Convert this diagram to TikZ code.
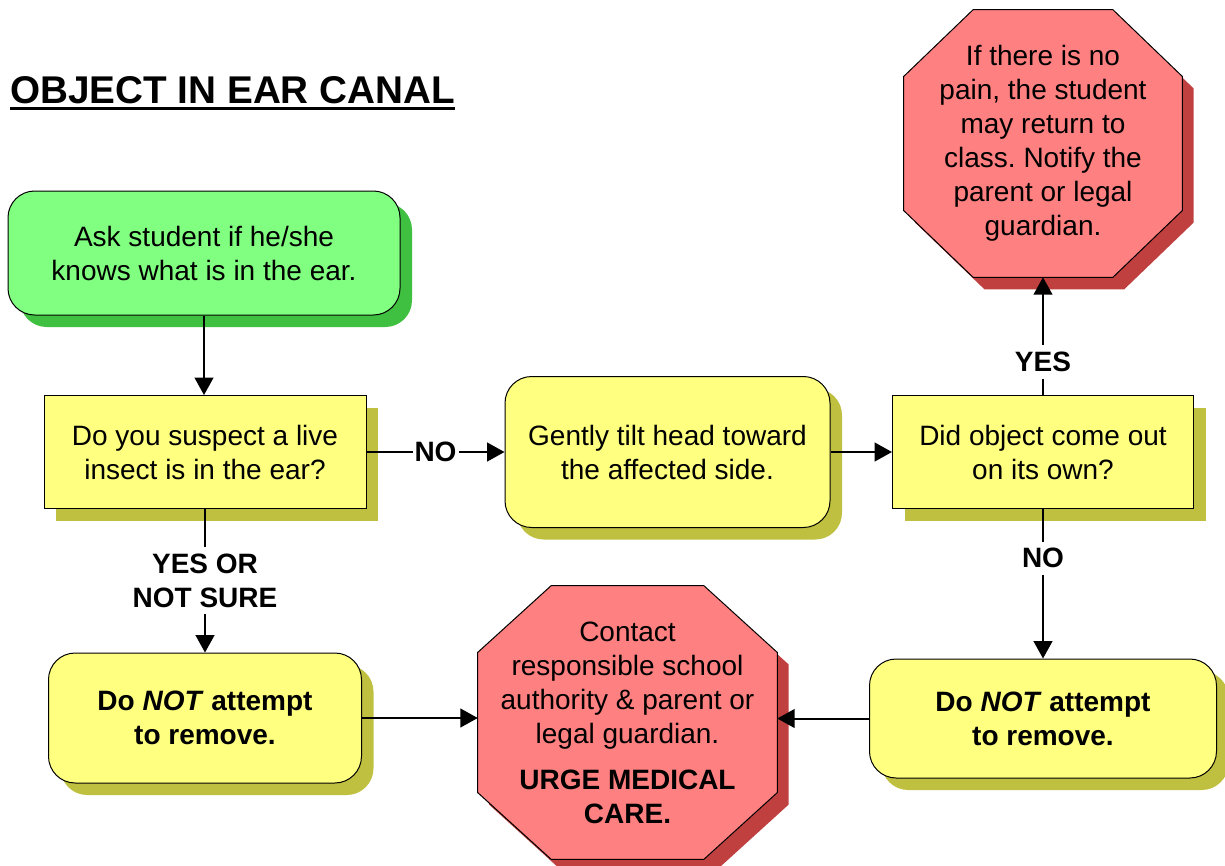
\documentclass[tikz,border=0pt]{standalone}
\usepackage{fontspec}
\setmainfont{Liberation Sans}
\usetikzlibrary{arrows.meta,%
                backgrounds,%
                shadows}
\usetikzlibrary{positioning}
\frenchspacing

\definecolor{askgreen}{HTML}{80FF80}
\definecolor{askshade}{HTML}{40C040}
\definecolor{boxyellow}{HTML}{FFFF80}
\definecolor{boxshade}{HTML}{C0C040}
\definecolor{stopred}{HTML}{FF8080}
\definecolor{stopshade}{HTML}{C04040}

\newcommand{\titleline}[1]{\setbox0\hbox{#1}\rlap{\rule[-5pt]{\wd0}{2.2pt}}\box0}
\newcommand{\stopsign}[3]{%
  \path[StopStyle] ([xshift=#2]#1.north west) -- ([xshift=-#2]#1.north east)
    -- ([yshift=-#3]#1.north east) -- ([yshift=#3]#1.south east)
    -- ([xshift=-#2]#1.south east) -- ([xshift=#2]#1.south west)
    -- ([yshift=#3]#1.south west) -- ([yshift=-#3]#1.north west) -- cycle;}

\begin{document}
\begin{tikzpicture}[x=0.75pt,y=-0.75pt,
  every node/.style={font=\fontsize{21}{25.5}\selectfont,align=center,inner sep=0pt}]
  \useasboundingbox (0,0) rectangle (1225,865);

  \tikzstyle{StartStyle}=[rectangle,rounded corners=20pt,draw=black,line width=0.75pt,
    fill=askgreen,minimum width=294pt,minimum height=93pt,
    drop shadow={shadow xshift=9pt,shadow yshift=-9pt,fill=askshade,opacity=1}]
  \tikzstyle{QuestionStyle}=[rectangle,draw=black,line width=0.75pt,
    fill=boxyellow,minimum width=241.5pt,minimum height=84.75pt,
    drop shadow={shadow xshift=9pt,shadow yshift=-9pt,fill=boxshade,opacity=1}]
  \tikzstyle{ActionStyle}=[QuestionStyle,rounded corners=20pt]
  \tikzstyle{StopNode}=[rectangle]
  \tikzstyle{StopStyle}=[draw=black,line width=0.75pt,fill=stopred,
    drop shadow={shadow xshift=8.5pt,shadow yshift=-9pt,fill=stopshade,opacity=1}]
  \tikzstyle{LabelStyle}=[fill=white,font=\fontsize{21}{25.5}\selectfont\bfseries,
    inner xsep=1.5pt,inner ysep=5pt]
  \tikzstyle{EdgeStyle}=[line width=1.5pt,-{Triangle[length=13pt,width=14pt]}]

  \node[anchor=base west,font=\fontsize{29}{34}\selectfont\bfseries] (title) at (10,103)
    {\titleline{OBJECT IN EAR CANAL}};

  \node[StartStyle] (ask) at (204,253) {Ask student if he/she\\knows what is in the ear.};
  \node[QuestionStyle] (insect) at (205,452) {Do you suspect a live\\insect is in the ear?};
  \node[ActionStyle,minimum width=243.75pt,minimum height=113.25pt] (tilt) at (667.5,452)
    {Gently tilt head toward\\the affected side.};
  \node[QuestionStyle,minimum width=225.75pt] (came) at (1043,452)
    {Did object come out\\on its own?};
  \node[StopNode,minimum width=208.5pt,minimum height=200.25pt] (nopain) at (1043,143.5)
    {If there is no\\pain, the student\\may return to\\class. Notify the\\parent or legal\\guardian.};
  \node[ActionStyle,minimum width=234.75pt,minimum height=97.5pt,font=\fontsize{21}{25.5}\selectfont\bfseries]
    (keepleft) at (205,718) {Do \textit{NOT} attempt\\to remove.};
  \node[ActionStyle,minimum width=260.25pt,minimum height=89.25pt,font=\fontsize{21}{25.5}\selectfont\bfseries]
    (keepright) at (1043,718.5) {Do \textit{NOT} attempt\\to remove.};
  \node[StopNode,minimum width=224.25pt,minimum height=204.75pt] (contact) at (627.5,722.5)
    {Contact\\responsible school\\authority \& parent or\\legal guardian.\\[9pt]
     \textbf{URGE MEDICAL}\\\textbf{CARE.}};

  \begin{scope}[on background layer]
    \stopsign{nopain}{52pt}{50pt}
    \stopsign{contact}{55pt}{50pt}
  \end{scope}

  \draw[EdgeStyle] (ask.south) -- (ask.south |- insect.north);
  \draw[EdgeStyle] (insect) -- node[LabelStyle] {NO} (tilt);
  \draw[EdgeStyle] (tilt) -- (came);
  \draw[EdgeStyle] (came) -- node[LabelStyle,pos=0.28] {YES} (nopain);
  \draw[EdgeStyle] (came) -- node[LabelStyle,pos=0.33] {NO} (keepright);
  \draw[EdgeStyle] (insect) -- node[LabelStyle] {YES OR\\NOT SURE} (keepleft);
  \draw[EdgeStyle] (keepleft.east) -- (keepleft.east -| contact.west);
  \draw[EdgeStyle] (keepright.west) -- (keepright.west -| contact.east);
\end{tikzpicture}
\end{document}
